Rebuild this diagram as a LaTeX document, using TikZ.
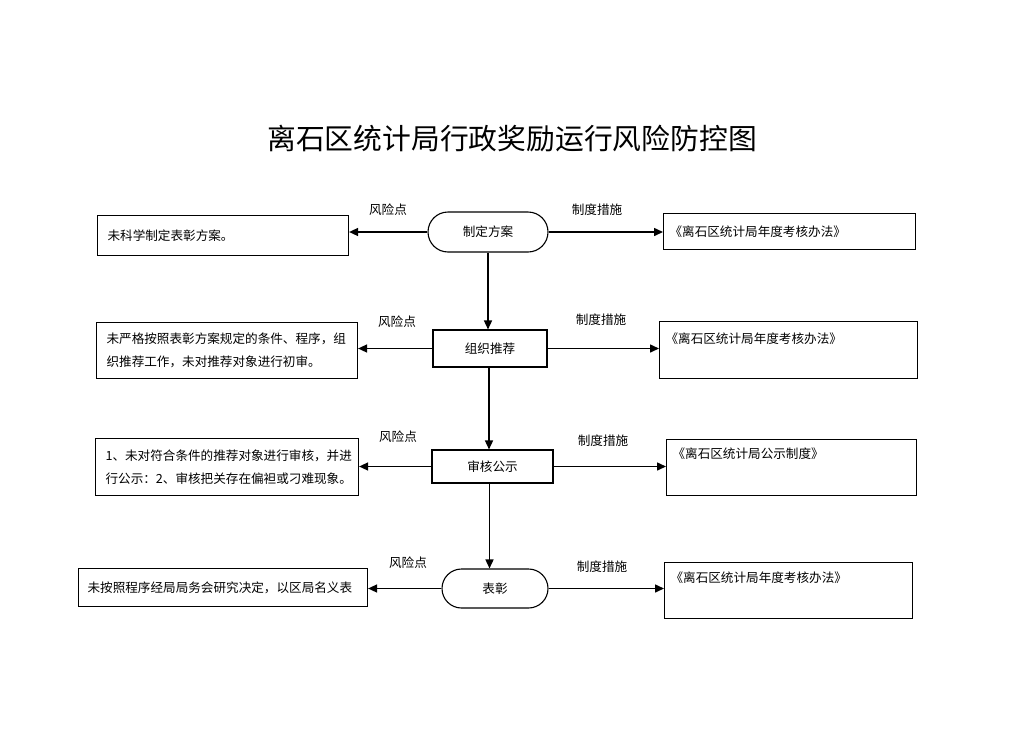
\documentclass[tikz,border=0pt]{standalone}
\usepackage{fontspec}
\newfontfamily\cjk{Noto Sans CJK SC}
\usetikzlibrary{shapes.misc,arrows.meta}
\tikzset{
  every picture/.style={x=1pt,y=-1pt},
  base/.style={font=\cjk\fontsize{12.6}{23}\selectfont},
  lbox/.style={base,draw,line width=1.1pt,inner xsep=10pt,inner ysep=0pt,align=left,anchor=north west},
  rbox/.style={base,draw,line width=1.1pt,inner xsep=6pt,inner ysep=0pt,align=left,anchor=north west},
  midrect/.style={base,draw,line width=1.1pt,inner sep=0pt},
  stadium/.style={base,draw,line width=1.1pt,rounded rectangle,inner sep=0pt},
  lbl/.style={base,inner sep=0pt},
  arr/.style={line width=1.5pt,-{Triangle[length=9pt,width=8pt]}},
}
\begin{document}
\begin{tikzpicture}
\useasboundingbox (0,0) rectangle (1033,731);
\fill[white] (0,0) rectangle (1033,731);
% title
\node[font=\cjk\fontsize{28.8}{30}\selectfont,inner sep=0pt] (title) at (512,139) {离石区统计局行政奖励运行风险防控图};

% middle column
\node[stadium,minimum width=120pt,minimum height=40pt] (s1) at (488,232) {制定方案};
\node[midrect,minimum width=114pt,minimum height=37pt] (m2) at (490,348.5) {组织推荐};
\node[midrect,minimum width=121pt,minimum height=33pt] (m3) at (492.5,466.5) {审核公示};
\node[stadium,minimum width=106pt,minimum height=39pt] (s4) at (495,588.5) {表彰};

% left boxes
\node[lbox,text width=231pt,minimum height=40pt] (l1) at (97,215) {未科学制定表彰方案。};
\node[lbox,text width=241pt,minimum height=56pt] (l2) at (96,322) {未严格按照表彰方案规定的条件、程序，组\\织推荐工作，未对推荐对象进行初审。};
\node[lbox,text width=243pt,minimum height=57pt] (l3) at (95,438) {1、未对符合条件的推荐对象进行审核，并进\\行公示：2、审核把关存在偏袒或刁难现象。};
\node[lbox,inner xsep=9pt,text width=271pt,minimum height=38pt] (l4) at (78,568) {未按照程序经局局务会研究决定，以区局名义表};

% right boxes
\node[rbox,text width=240pt,minimum height=36pt] (r1) at (663,213) {《离石区统计局年度考核办法》};
\node[rbox,text width=246pt,text height=21.7pt,text depth=35.3pt] (r2) at (659,321) {《离石区统计局年度考核办法》};
\node[rbox,text width=238pt,text height=18.7pt,text depth=37.3pt] (r3) at (666,439) {《离石区统计局公示制度》};
\node[rbox,text width=236pt,text height=19.7pt,text depth=36.3pt] (r4) at (664,562) {《离石区统计局年度考核办法》};

% labels
\node[lbl] (k1) at (388,210) {风险点};
\node[lbl] (k2) at (397,322) {风险点};
\node[lbl] (k3) at (398,437) {风险点};
\node[lbl] (k4) at (408,563) {风险点};
\node[lbl] (z1) at (597,210) {制度措施};
\node[lbl] (z2) at (601,320) {制度措施};
\node[lbl] (z3) at (603,441) {制度措施};
\node[lbl] (z4) at (602,567) {制度措施};

% vertical arrows
\draw[arr] (s1.south) -- (s1.south |- m2.north);
\draw[arr] ([xshift=-1pt]m2.south) -- ([xshift=-1pt]m2.south |- m3.north);
\draw[arr] ([xshift=-3pt]m3.south) -- ([xshift=-3pt]m3.south |- s4.north);

% horizontal arrows
\draw[arr] (s1.west) -- (s1.west -| l1.east);
\draw[arr] (s1.east) -- (s1.east -| r1.west);
\draw[arr] (m2.west) -- (m2.west -| l2.east);
\draw[arr] (m2.east) -- (m2.east -| r2.west);
\draw[arr] (m3.west) -- (m3.west -| l3.east);
\draw[arr] (m3.east) -- (m3.east -| r3.west);
\draw[arr] (s4.west) -- (s4.west -| l4.east);
\draw[arr] (s4.east) -- (s4.east -| r4.west);
\end{tikzpicture}
\end{document}
